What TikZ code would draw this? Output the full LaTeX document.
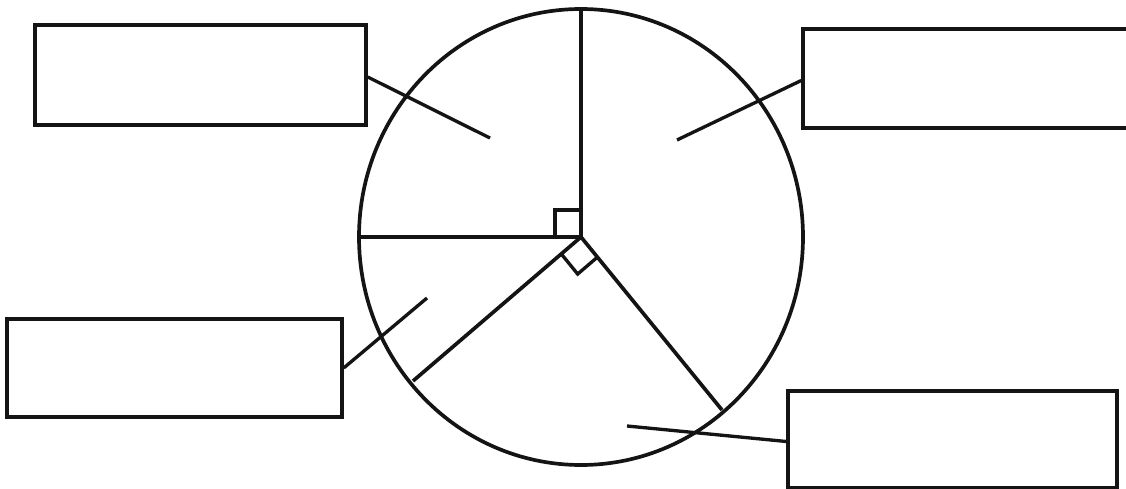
\documentclass[tikz,border=0pt]{standalone}
\usepackage{tikz}
\usetikzlibrary{positioning,calc}
\definecolor{pcInk}{RGB}{20,20,20}
\tikzset{
    pie/.style={draw=pcInk, line width=2.1pt},
    labelbox/.style={rectangle, draw=pcInk, line width=2pt, fill=white, inner sep=0pt},
    leader/.style={draw=pcInk, line width=1.9pt},
    rightmark/.style={draw=pcInk, line width=1.9pt}
}
\begin{document}
\begin{tikzpicture}[x=0.02cm, y=-0.02cm]
  \useasboundingbox (0,0) rectangle (1126,489);
  % the pie
  \coordinate (c) at (581,237);
  \draw[pie] (c) ellipse [x radius=222, y radius=228];
  \coordinate (up) at (581,9);
  \coordinate (lf) at (359,237);
  \coordinate (ll) at (413,381);
  \coordinate (lr) at (722,410);
  \draw[pie] (c) -- (up);
  \draw[pie] (c) -- (lf);
  \draw[pie] (c) -- (ll);
  \draw[pie] (c) -- (lr);
  % right angles
  \draw[rightmark] ($(c)+(-26,0)$) -- ++(0,-27) -- ++(26,0);
  \coordinate (d1) at ($(c)!0.52cm!(ll)$);
  \coordinate (d2) at ($(c)!0.52cm!(lr)$);
  \draw[rightmark] (d1) -- ($(d1)+(d2)-(c)$) -- (d2);
  % boxes
  \node[labelbox, minimum width=6.62cm, minimum height=2cm] (tl) at (200.5,75) {};
  \node[labelbox, minimum width=6.5cm, minimum height=1.98cm] (tr) at (965.5,78.5) {};
  \node[labelbox, minimum width=6.7cm, minimum height=1.96cm] (bl) at (174.5,368) {};
  \node[labelbox, minimum width=6.58cm, minimum height=1.94cm] (br) at (952.5,439.5) {};
  % leaders
  \coordinate (tlEnd) at (490,138);
  \coordinate (trEnd) at (677,140);
  \coordinate (blEnd) at (427,298);
  \coordinate (brEnd) at (627,426);
  \draw[leader] ($(tl.east)+(0,2)$) -- (tlEnd);
  \draw[leader] ($(tr.west)+(0,2)$) -- (trEnd);
  \draw[leader] (bl.east) -- (blEnd);
  \draw[leader] ($(br.west)+(0,2)$) -- (brEnd);
\end{tikzpicture}
\end{document}
